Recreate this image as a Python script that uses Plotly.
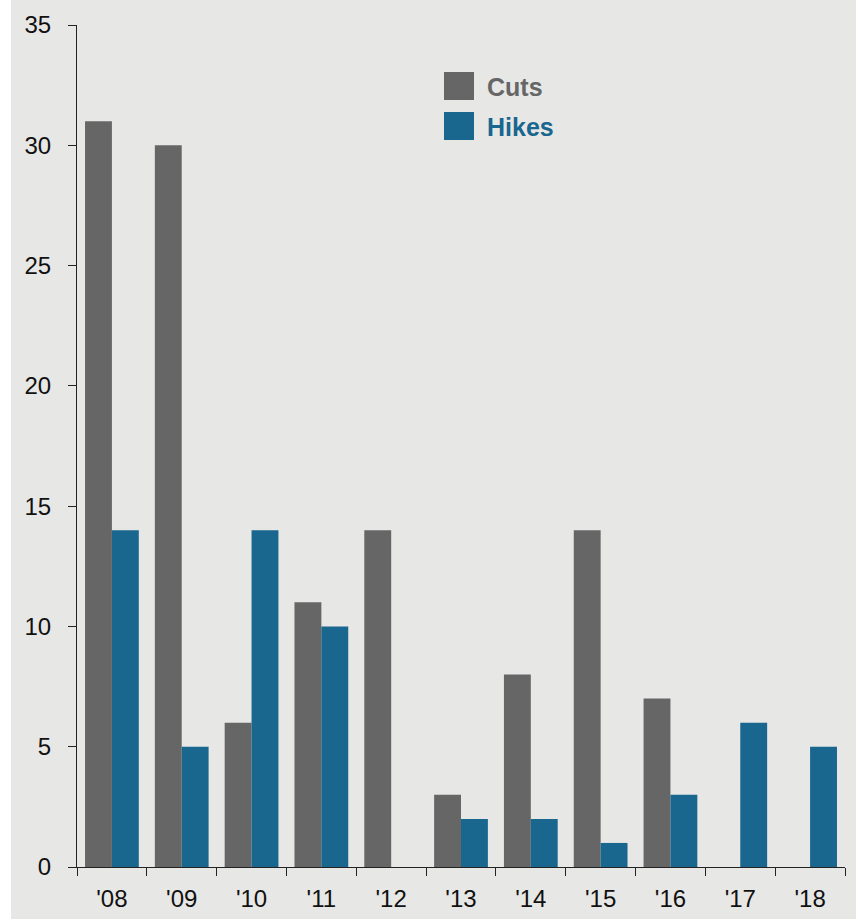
import plotly.graph_objects as go

years = ["'08", "'09", "'10", "'11", "'12", "'13", "'14", "'15", "'16", "'17", "'18"]
cuts = [31, 30, 6, 11, 14, 3, 8, 14, 7, 0, 0]
hikes = [14, 5, 14, 10, 0, 2, 2, 1, 3, 6, 5]

CUT_COLOR = "#666666"
HIKE_COLOR = "#19668f"
BG = "#e7e7e6"
FONT = "Liberation Sans, Arial, sans-serif"

fig = go.Figure()
fig.add_trace(go.Bar(x=years, y=cuts, name="Cuts", marker=dict(color=CUT_COLOR, line=dict(width=0))))
fig.add_trace(go.Bar(x=years, y=hikes, name="Hikes", marker=dict(color=HIKE_COLOR, line=dict(width=0))))

W, H = 856, 919
L, R, T, B = 77, 11, 25, 52
pw = W - L - R
ph = H - T - B

def px_x(x):
    return (x - L) / pw

def px_y(y):
    return (H - B - y) / ph

shapes = [
    dict(type="rect", xref="paper", yref="paper", x0=px_x(11), x1=px_x(856), y0=px_y(919), y1=px_y(0),
         fillcolor=BG, line=dict(width=0), layer="below"),
    dict(type="rect", xref="paper", yref="paper", x0=px_x(444), x1=px_x(474), y0=px_y(100), y1=px_y(72),
         fillcolor=CUT_COLOR, line=dict(width=0)),
    dict(type="rect", xref="paper", yref="paper", x0=px_x(444), x1=px_x(474), y0=px_y(140), y1=px_y(112),
         fillcolor=HIKE_COLOR, line=dict(width=0)),
]
annotations = [
    dict(xref="paper", yref="paper", x=px_x(485), y=px_y(87), xanchor="left", yanchor="middle",
         text="<b>Cuts</b>", showarrow=False, font=dict(family=FONT, size=25, color=CUT_COLOR)),
    dict(xref="paper", yref="paper", x=px_x(485), y=px_y(127), xanchor="left", yanchor="middle",
         text="<b>Hikes</b>", showarrow=False, font=dict(family=FONT, size=25, color=HIKE_COLOR)),
]

fig.update_layout(
    width=W, height=H,
    margin=dict(l=L, r=R, t=T, b=B, pad=0, autoexpand=False),
    paper_bgcolor="white",
    plot_bgcolor=BG,
    barmode="group",
    bargap=0.23,
    bargroupgap=0,
    showlegend=False,
    font=dict(family=FONT, size=24, color="#111111"),
    shapes=shapes,
    annotations=annotations,
)
fig.update_xaxes(
    type="category", range=[-0.5, 10.5], showgrid=False, zeroline=False, automargin=False,
    showline=True, linecolor="#222222", linewidth=1.2,
    ticks="outside", tickson="boundaries", ticklen=8, tickcolor="#222222", tickwidth=1.2,
    ticklabelstandoff=10,
    tickfont=dict(family=FONT, size=24, color="#111111"),
)
fig.update_yaxes(
    range=[0, 35], dtick=5, showgrid=False, zeroline=False, automargin=False,
    showline=True, linecolor="#222222", linewidth=1.2,
    ticks="outside", ticklen=8, tickcolor="#222222", tickwidth=1.2,
    ticklabelstandoff=12,
    tickfont=dict(family=FONT, size=24, color="#111111"),
)

fig.write_html("out.html", config={"displayModeBar": False},
               post_script="document.body.style.margin='0';document.body.style.overflow='hidden';")
